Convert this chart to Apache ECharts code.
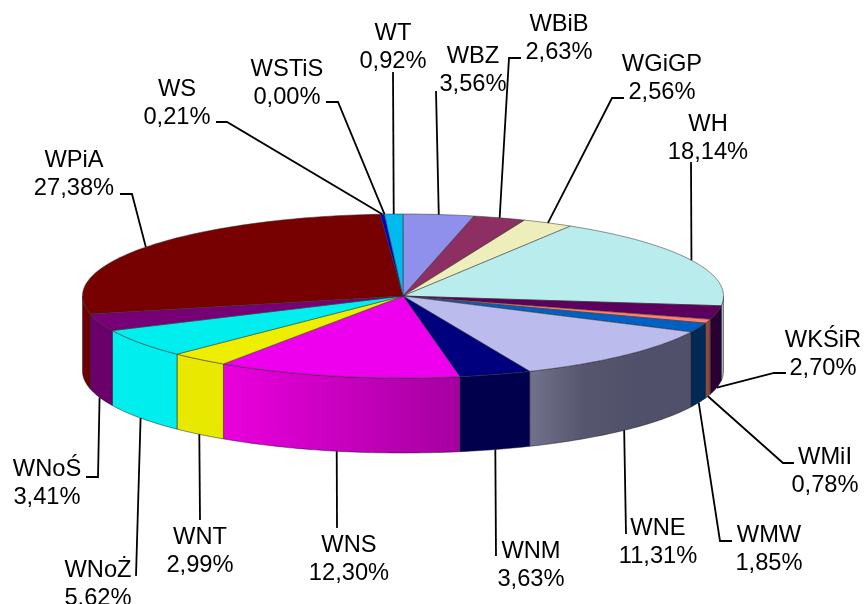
<!DOCTYPE html>
<html>
<head>
<meta charset="utf-8">
<title>Udział wydziałów</title>
<script src="https://cdn.jsdelivr.net/npm/echarts@6/dist/echarts.min.js"></script>
<style>
html, body { margin: 0; padding: 0; background: #fff; }
#chart { width: 864px; height: 604px; }
</style>
</head>
<body>
<div id="chart"></div>
<script>
// dane wykresu, kolejnosc zgodnie z ruchem wskazowek od godziny 12
var names = ['WBZ', 'WBiB', 'WGiGP', 'WH', 'WKŚiR', 'WMiI', 'WMW', 'WNE', 'WNM', 'WNS', 'WNT', 'WNoŻ', 'WNoŚ', 'WPiA', 'WS', 'WSTiS', 'WT'];
var values = [3.56, 2.63, 2.56, 18.14, 2.70, 0.78, 1.85, 11.31, 3.63, 12.30, 2.99, 5.62, 3.41, 27.38, 0.21, 0.00, 0.92];
var valueTexts = ['3,56%', '2,63%', '2,56%', '18,14%', '2,70%', '0,78%', '1,85%', '11,31%', '3,63%', '12,30%', '2,99%', '5.62%', '3,41%', '27,38%', '0,21%', '0,00%', '0,92%'];

// kolory: gora plastra i sciana boczna (od lewej do prawej)
var topColors = ['#8f8fec', '#8e2f63', '#eeeebb', '#b9eded', '#5d005d', '#ff7f70', '#0060c4', '#bbbbee', '#00007f', '#ee00ee', '#eeee00', '#00eeee', '#770077', '#770000', '#0000cc', '#0000cc', '#00bbee'];
var wallColors = [
    ['#6f6fb0', '#6f6fb0'], ['#6e2048', '#6e2048'], ['#b0b088', '#b0b088'], ['#a8c4c4', '#9ab0b0'],
    ['#2a0030', '#2a0030'], ['#8a4a40', '#8a4a40'], ['#002a55', '#002a55'], ['#72728c', '#56566e', '#50506a', '#50506a'],
    ['#00004d', '#00004d'], ['#ea00dd', '#a500a0'], ['#e8e800', '#e8e800'], ['#00eeee', '#00eeee'],
    ['#6b006b', '#6b006b'], ['#700000', '#700000'], ['#0000aa', '#0000aa'], ['#0000aa', '#0000aa'], ['#0090c0', '#0090c0']
];

// geometria tortu
var cx = 403, cy = 296, rx = 320.5, ry = 82, depth = 75;

// opisy: srodek tekstu i punkty linii odniesienia
var labelPos = [[473, 70], [559, 38], [662, 78], [708, 138], [823, 354], [825, 471], [769, 549], [658, 542], [531, 565], [349, 559], [200, 551], [98, 584], [47, 483], [74, 174], [177, 103], [287, 83], [393, 47]];
var leaderPaths = [
    [[436, 91]],
    [[509, 58], [521, 58]],
    [[612, 98], [624, 98]],
    [[691, 162]],
    [[774, 373], [786, 373]],
    [[783, 463], [794, 463]],
    [[720, 541], [732, 541]],
    [[626, 534]],
    [[496, 556]],
    [[337, 528]],
    [[200, 520]],
    [[136, 576]],
    [[98, 477], [86, 477]],
    [[132, 194], [120, 194]],
    [[227, 122], [216, 122]],
    [[338, 102], [326, 102]],
    [[393, 72]]
];

var total = values.reduce(function(a, b) { return a + b; }, 0);
var starts = [];
values.reduce(function(sum, v, i) { starts[i] = sum; return sum + v; }, 0);

function toAngle(v) {
    return v / total * Math.PI * 2;
}
function rim(a, dy) {
    return [cx + rx * Math.sin(a), cy - ry * Math.cos(a) + (dy || 0)];
}
function arc(a0, a1, dy) {
    var pts = [];
    var n = Math.max(2, Math.ceil((a1 - a0) / 0.02));
    for (var i = 0; i <= n; i++) {
        pts.push(rim(a0 + (a1 - a0) * i / n, dy));
    }
    return pts;
}

var sliceData = names.map(function(n, i) {
    return { name: n, value: [values[i], starts[i], i] };
});

// sciany boczne, widoczna tylko przednia polowa
function renderWall(params, api) {
    var i = api.value(2);
    var a0 = Math.max(toAngle(api.value(1)), Math.PI / 2);
    var a1 = Math.min(toAngle(api.value(1) + api.value(0)), Math.PI * 1.5);
    if (a1 <= a0) return null;
    var pts = arc(a0, a1, 0).concat(arc(a0, a1, depth).reverse());
    var stops = wallColors[i].map(function(c, k, all) {
        return { offset: k / (all.length - 1), color: c };
    });
    return {
        type: 'polygon',
        shape: { points: pts },
        style: {
            fill: new echarts.graphic.LinearGradient(0, 0, 1, 0, stops),
            stroke: 'rgba(20,20,40,0.8)',
            lineWidth: 0.6
        }
    };
}

// gorne powierzchnie plastrow
function renderTop(params, api) {
    var i = api.value(2);
    if (api.value(0) <= 0) return null;
    var a0 = toAngle(api.value(1));
    var a1 = toAngle(api.value(1) + api.value(0));
    return {
        type: 'polygon',
        shape: { points: [[cx, cy]].concat(arc(a0, a1, 0)) },
        style: { fill: topColors[i], stroke: 'rgba(50,50,50,0.75)', lineWidth: 0.7 }
    };
}

// linie odniesienia i opisy
function renderLabel(params, api) {
    var i = api.value(2);
    var mid = toAngle(api.value(1) + api.value(0) / 2);
    var front = Math.cos(mid) < 0;
    var anchor = rim(mid, front ? depth : 0);
    return {
        type: 'group',
        children: [{
            type: 'polyline',
            shape: { points: [anchor].concat(leaderPaths[i]) },
            style: { fill: null, stroke: '#000', lineWidth: 1.8 }
        }, {
            type: 'text',
            style: {
                x: labelPos[i][0],
                y: labelPos[i][1],
                text: names[i] + '\n' + valueTexts[i],
                align: 'center',
                verticalAlign: 'middle',
                fill: '#000',
                font: '23.7px "Liberation Sans", Arial, sans-serif',
                lineHeight: 28
            }
        }]
    };
}

var chart = echarts.init(document.getElementById('chart'));
var option = {
    animation: false,
    backgroundColor: '#fff',
    tooltip: { show: false },
    series: [
        { type: 'custom', name: 'sciany', coordinateSystem: 'none', data: sliceData, renderItem: renderWall, silent: true },
        { type: 'custom', name: 'plastry', coordinateSystem: 'none', data: sliceData, renderItem: renderTop, silent: true },
        { type: 'custom', name: 'opisy', coordinateSystem: 'none', data: sliceData, renderItem: renderLabel, silent: true }
    ]
};
chart.setOption(option);
</script>
</body>
</html>
